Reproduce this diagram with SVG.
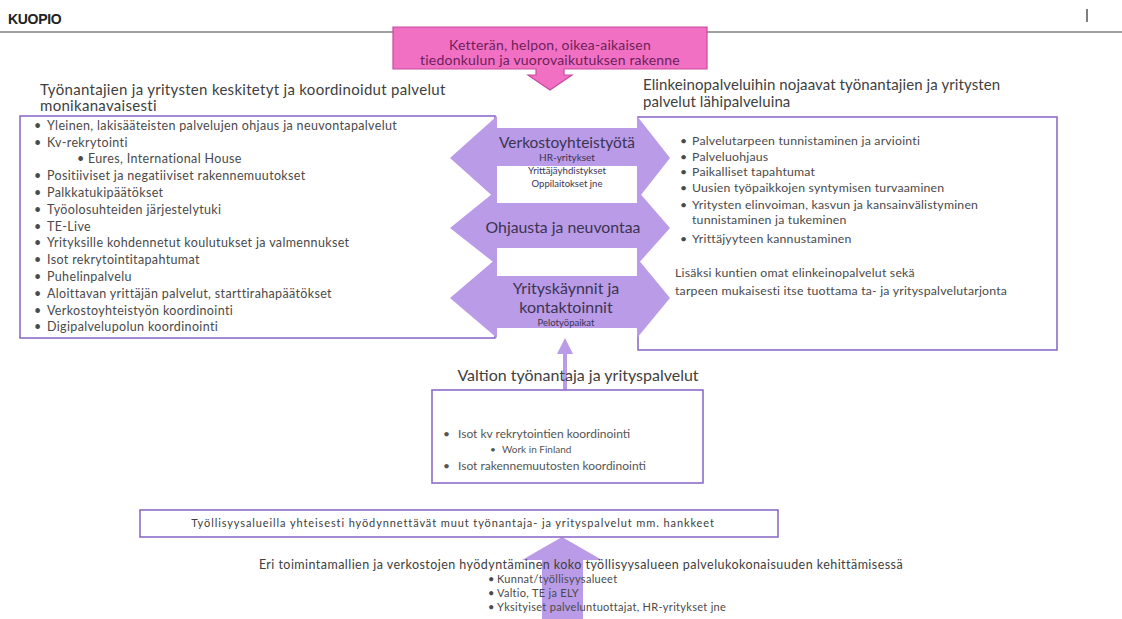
<svg xmlns="http://www.w3.org/2000/svg" width="1122" height="619" viewBox="0 0 1122 619">
<defs>
<style>
text{font-family:Lato,"Noto Sans","Liberation Sans",sans-serif;fill:#4a4a4a}
.box{fill:#fff;stroke:#8e6cc8;stroke-width:1.6}
.arr{fill:#b99be8;stroke:none}
.wh{fill:#fff;stroke:none}
.ttl{font-size:15px;fill:#404040}
.li{font-size:12.5px;fill:#555;letter-spacing:0.35px}
.ri{font-size:12.3px;fill:#555;letter-spacing:0.2px}
.vi{font-size:12px;fill:#555}
.big{font-size:15.5px;fill:#3c3450;text-anchor:middle}
.sm{font-size:9.7px;fill:#3c3450;text-anchor:middle}
.call{font-size:14px;fill:#6d1f5a;text-anchor:middle;letter-spacing:0.2px}
.bt{fill:#404040}
</style>
</defs>
<rect width="1122" height="619" fill="#fff"/>
<g id="header">
<line x1="0" y1="32" x2="1122" y2="32" stroke="#a0a0a0" stroke-width="2"/>
<text x="8" y="24" style="font-family:'Liberation Sans',sans-serif;font-size:14px;font-weight:bold;fill:#222;letter-spacing:-0.3px">KUOPIO</text>
<line x1="1087" y1="9" x2="1087" y2="22" stroke="#555" stroke-width="1.5"/>
</g>
<g id="left-services">
<text class="ttl" x="40" y="95" style="letter-spacing:0.3px">Työnantajien ja yritysten keskitetyt ja koordinoidut palvelut</text>
<text class="ttl" x="40" y="111" style="letter-spacing:0.3px">monikanavaisesti</text>
<rect class="box" x="20" y="116" width="475" height="222"/>
<g class="li">
<text x="34" y="130">•</text><text x="47" y="130">Yleinen, lakisääteisten  palvelujen ohjaus ja neuvontapalvelut</text>
<text x="34" y="147">•</text><text x="47" y="147">Kv-rekrytointi</text>
<text x="77" y="163">•</text><text x="88" y="163">Eures, International House</text>
<text x="34" y="180">•</text><text x="47" y="180">Positiiviset ja negatiiviset rakennemuutokset</text>
<text x="34" y="197">•</text><text x="47" y="197">Palkkatukipäätökset</text>
<text x="34" y="214">•</text><text x="47" y="214">Työolosuhteiden järjestelytuki</text>
<text x="34" y="231">•</text><text x="47" y="231">TE-Live</text>
<text x="34" y="247">•</text><text x="47" y="247">Yrityksille kohdennetut koulutukset ja valmennukset</text>
<text x="34" y="264">•</text><text x="47" y="264">Isot rekrytointitapahtumat</text>
<text x="34" y="281">•</text><text x="47" y="281">Puhelinpalvelu</text>
<text x="34" y="298">•</text><text x="47" y="298">Aloittavan yrittäjän palvelut, starttirahapäätökset</text>
<text x="34" y="315">•</text><text x="47" y="315">Verkostoyhteistyön koordinointi</text>
<text x="34" y="331">•</text><text x="47" y="331">Digipalvelupolun koordinointi</text>
</g>
</g>
<g id="right-services">
<text class="ttl" x="643" y="90" style="letter-spacing:0.1px">Elinkeinopalveluihin nojaavat työnantajien ja yritysten</text>
<text class="ttl" x="643" y="107" style="letter-spacing:0.1px">palvelut lähipalveluina</text>
<rect class="box" x="638" y="117" width="419" height="233"/>
<g class="ri">
<text x="680" y="145">•</text><text x="692" y="145">Palvelutarpeen tunnistaminen ja arviointi</text>
<text x="680" y="161">•</text><text x="692" y="161">Palveluohjaus</text>
<text x="680" y="176">•</text><text x="692" y="176">Paikalliset tapahtumat</text>
<text x="680" y="192">•</text><text x="692" y="192">Uusien työpaikkojen syntymisen turvaaminen</text>
<text x="680" y="209">•</text><text x="692" y="209">Yritysten elinvoiman, kasvun ja kansainvälistyminen</text>
<text x="692" y="224">tunnistaminen ja tukeminen</text>
<text x="680" y="243">•</text><text x="692" y="243">Yrittäjyyteen kannustaminen</text>
<text x="675" y="277">Lisäksi kuntien omat elinkeinopalvelut  sekä</text>
<text x="675" y="295">tarpeen mukaisesti itse tuottama ta- ja yrityspalvelutarjonta</text>
</g>
</g>
<g id="callout">
<path d="M393,27 H707 V69 H564 V75 H572 L550,90 L528,75 H536 V69 H393 Z" fill="#f270c4" stroke="#c84a9c" stroke-width="1.2"/>
<text class="call" x="550" y="50">Ketterän, helpon, oikea-aikaisen</text>
<text class="call" x="550" y="65">tiedonkulun ja vuorovaikutuksen rakenne</text>
</g>
<g id="arrow-verkosto">
<polygon class="arr" points="450,158 497,116 497,128 637,128 637,116 670,158 637,200 637,188 497,188 497,200"/>
</g>
<g id="arrow-ohjaus">
<polygon class="arr" points="450,228 497,190 497,203 637,203 637,190 670,228 637,265 637,253 497,253 497,265"/>
</g>
<g id="arrow-yrityskaynnit">
<polygon class="arr" points="450,298 497,258 497,270 637,270 637,258 670,298 637,338 637,328 497,328 497,338"/>
</g>
<g id="white-panels">
<rect class="wh" x="497" y="166" width="140" height="35"/>
<rect class="wh" x="497" y="248" width="140" height="28"/>
<rect class="wh" x="497" y="328" width="140" height="22"/>
</g>
<g id="arrow-labels">
<text class="big" x="567" y="148">Verkostoyhteistyötä</text>
<text class="sm" x="567" y="161" style="font-size:10px">HR-yritykset</text>
<text class="sm" x="567" y="174">Yrittäjäyhdistykset</text>
<text class="sm" x="567" y="187" style="font-size:9.5px">Oppilaitokset jne</text>
<text class="big" x="563" y="233" style="font-size:15.8px">Ohjausta ja neuvontaa</text>
<text class="big" x="566" y="294" style="font-size:16px">Yrityskäynnit ja</text>
<text class="big" x="566" y="313" style="font-size:16px">kontaktoinnit</text>
<text class="sm" x="566" y="326" style="font-size:9.5px">Pelotyöpaikat</text>
</g>
<g id="connectors">
<polygon class="arr" points="565,338 573,354 567,354 567,390 563,390 563,354 557,354"/>
<polygon class="arr" points="562,537 602,560 583,560 583,619 542,619 542,560 522,560"/>
</g>
<g id="state-services">
<text class="ttl" x="578" y="381" text-anchor="middle" style="font-size:16px">Valtion työnantaja ja yrityspalvelut</text>
<rect class="box" x="432" y="390" width="271" height="93"/>
<text x="443" y="438" class="vi">•</text><text x="458" y="438" class="vi">Isot kv rekrytointien  koordinointi</text>
<text x="490" y="453" class="vi" style="font-size:10px">•</text><text x="502" y="453" class="vi" style="font-size:10px">Work in Finland</text>
<text x="443" y="470" class="vi">•</text><text x="458" y="470" class="vi">Isot rakennemuutosten  koordinointi</text>
</g>
<g id="shared-services">
<rect class="box" x="140" y="510" width="638" height="27"/>
<text x="453" y="527" text-anchor="middle" class="bt" style="font-size:11px;letter-spacing:0.9px">Työllisyysalueilla  yhteisesti hyödynnettävät muut työnantaja- ja yrityspalvelut mm. hankkeet</text>
</g>
<g id="networks">
<text x="581" y="569" text-anchor="middle" class="bt" style="font-size:12.5px;letter-spacing:0.45px">Eri toimintamallien  ja verkostojen hyödyntäminen koko työllisyysalueen  palvelukokonaisuuden kehittämisessä</text>
<g class="bt" style="font-size:11px;letter-spacing:0.3px">
<text x="488" y="583">•</text><text x="497" y="583">Kunnat/työllisyysalueet</text>
<text x="488" y="597">•</text><text x="497" y="597">Valtio, TE ja ELY</text>
<text x="488" y="611">•</text><text x="497" y="611">Yksityiset palveluntuottajat, HR-yritykset jne</text>
</g>
</g>
</svg>
